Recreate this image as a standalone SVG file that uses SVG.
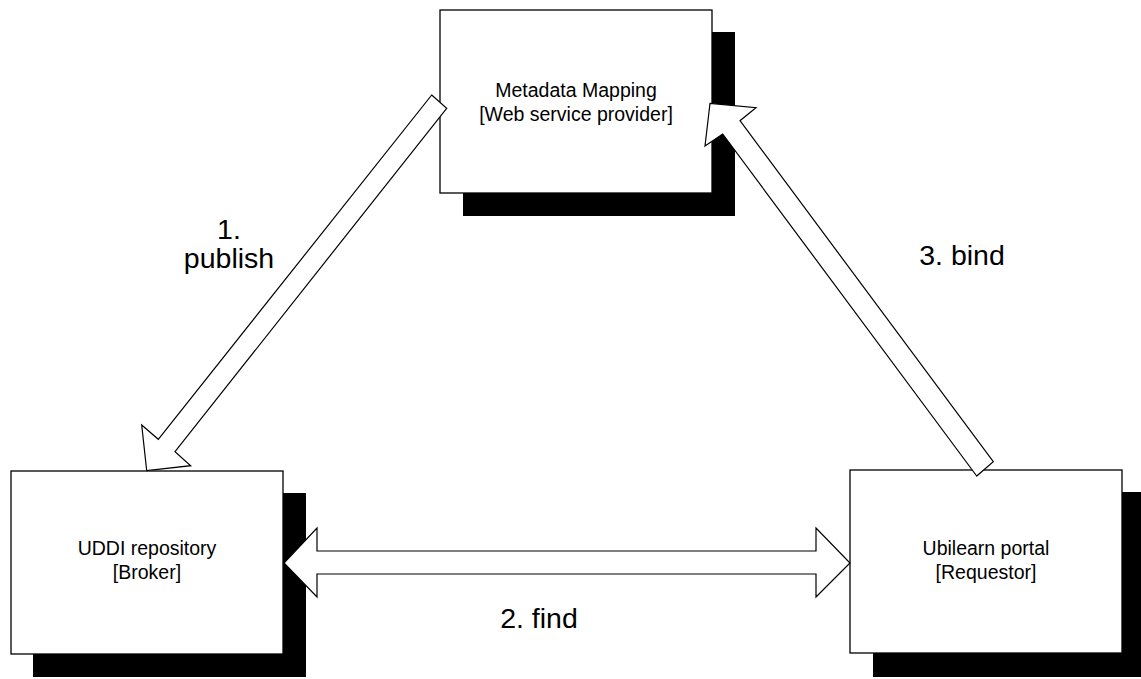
<svg xmlns="http://www.w3.org/2000/svg" width="1141" height="679" viewBox="0 0 1141 679">
  <style>
    .shadow { fill: #000; }
    .box { fill: #fff; stroke: #000; stroke-width: 1.3; }
    .node-text { font-family: "Liberation Sans", Arial, sans-serif; font-size: 19.5px; fill: #000; text-anchor: middle; }
    .label { font-family: "Liberation Sans", Arial, sans-serif; font-size: 28.5px; fill: #000; text-anchor: middle; }
    .block-arrow { fill: #fff; stroke: #000; stroke-width: 1.2; stroke-linejoin: miter; }
  </style>
  <rect width="1141" height="679" fill="#fff"/>

  <!-- Service provider -->
  <g id="provider">
    <rect class="shadow" x="463" y="32" width="272" height="184"/>
    <rect class="box" x="440" y="10" width="272" height="183"/>
    <text class="node-text" x="576" y="97">Metadata Mapping</text>
    <text class="node-text" x="576" y="121">[Web service provider]</text>
  </g>

  <!-- Broker -->
  <g id="broker">
    <rect class="shadow" x="33" y="493" width="273" height="184"/>
    <rect class="box" x="11" y="471" width="272" height="183"/>
    <text class="node-text" x="147" y="555">UDDI repository</text>
    <text class="node-text" x="147" y="579">[Broker]</text>
  </g>

  <!-- Requestor -->
  <g id="requestor">
    <rect class="shadow" x="873" y="492" width="272" height="185"/>
    <rect class="box" x="850" y="470" width="272" height="183"/>
    <text class="node-text" x="986" y="555">Ubilearn portal</text>
    <text class="node-text" x="986" y="579">[Requestor]</text>
  </g>

  <!-- Block arrows between the three roles -->
  <g id="connectors">
    <polygon class="block-arrow" points="431.7,95 446.7,108.3 175,451.7 190.7,465.7 146.7,470.7 141.7,425 158.3,439.3"/>
    <polygon class="block-arrow" points="284,563 317,528 317,551 816,551 816,528 850,563 816,597 816,574 317,574 317,597"/>
    <polygon class="block-arrow" points="976.7,476 722.7,134 705,146 710,103.3 756,107.7 740,120.7 993.3,461.7"/>
  </g>

  <!-- Step labels -->
  <g id="labels">
    <text class="label" x="229" y="239">1.</text>
    <text class="label" x="229" y="268">publish</text>
    <text class="label" x="539" y="628">2. find</text>
    <text class="label" x="962" y="265">3. bind</text>
  </g>
</svg>
